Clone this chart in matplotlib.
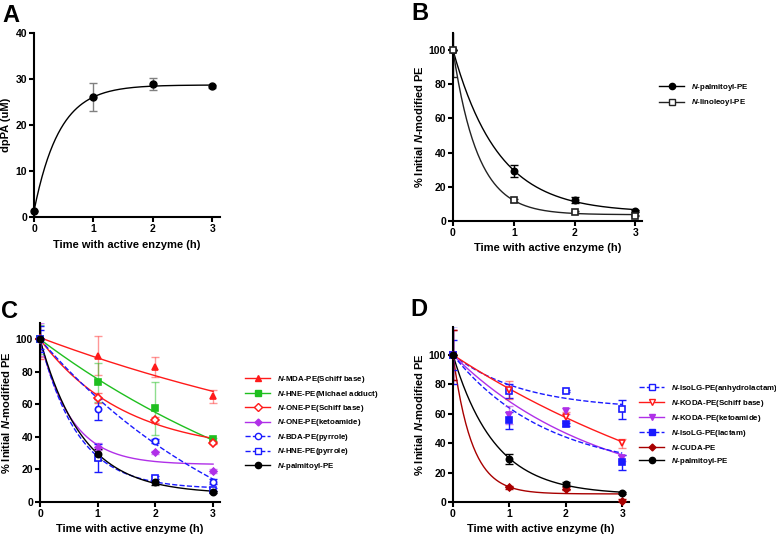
import matplotlib
matplotlib.use("Agg")
import matplotlib.pyplot as plt
from matplotlib.lines import Line2D
import numpy as np

plt.rcParams['font.family'] = ['Liberation Sans', 'DejaVu Sans']
plt.rcParams['font.weight'] = 'bold'
plt.rcParams['axes.labelweight'] = 'bold'
plt.rcParams['mathtext.fontset'] = 'custom'
plt.rcParams['mathtext.it'] = 'Liberation Sans:italic:bold'
plt.rcParams['mathtext.rm'] = 'Liberation Sans:bold'

# ---- data ----
t = [0, 1, 2, 3]

# A: dpPA release
dppa = [1.3, 26.1, 28.9, 28.4]
dppa_err = [0, 3.0, 1.3, 0.3]
dppa_fit = (1.3, 28.7, 2.35)          # (y0, plateau, k)

# B
b_labels = ['$N$-palmitoyl-PE', '$N$-linoleoyl-PE']
b_vals = [[100, 29.3, 12.3, 6.0], [100, 12.0, 5.2, 3.0]]
b_err = [[0, 3.5, 1.8, 0.5], [16, 0.8, 0.5, 0.3]]
b_fit = [(100, 5, 1.35), (100, 3.7, 2.45)]

# C
c_labels = ['$N$-MDA-PE(Schiff base)', '$N$-HNE-PE(Michael adduct)',
            '$N$-ONE-PE(Schiff base)', '$N$-ONE-PE(ketoamide)',
            '$N$-BDA-PE(pyrrole)', '$N$-HNE-PE(pyrrole)', '$N$-palmitoyl-PE']
c_vals = [[100, 90, 83, 65],
          [100, 73.5, 57.5, 38.5],
          [100, 64, 50.5, 36.5],
          [100, 34, 30.5, 19],
          [100, 57, 37.5, 12.5],
          [100, 27, 14.5, 7.5],
          [100, 29.3, 12.3, 6.0]]
c_err = [[11, 12, 6, 4],
         [9, 12, 16.5, 1],
         [12, 3, 2, 1],
         [10, 2, 1, 1],
         [6, 6.5, 1.5, 1.5],
         [8, 8.5, 1.5, 1],
         [0, 3.5, 1.8, 0.5]]
c_fit = [(101, 0, 0.132), (100, -50, 0.178), (100, 30, 0.68), (100, 23, 1.86),
         (100, -60, 0.257), (100, 8, 1.53), (100, 5, 1.35)]

# D
d_labels = ['$N$-IsoLG-PE(anhydrolactam)', '$N$-KODA-PE(Schiff base)',
            '$N$-KODA-PE(ketoamide)', '$N$-IsoLG-PE(lactam)',
            '$N$-CUDA-PE', '$N$-palmitoyl-PE']
d_vals = [[100, 75.5, 75.5, 63],
          [100, 76, 58, 40],
          [100, 59, 62, 30],
          [100, 55.5, 53, 27],
          [100, 10, 9, 1],
          [100, 29.3, 12.3, 6.0]]
d_err = [[10, 5, 1, 6.5],
         [17, 6, 3, 3],
         [17, 6, 2, 2],
         [20, 6, 1, 5],
         [17, 1, 1, 1],
         [0, 3.5, 1.5, 0.5]]
d_fit = [(100, 63, 0.8), (100, -50, 0.167), (100, 0, 0.38), (100, 20, 0.6),
         (100, 5.5, 3.0), (100, 5, 1.35)]

# ---- styles ----
RED, GREEN, PURPLE, BLUE, DRED = '#ff1a1a', '#1fbf1f', '#b030e8', '#1a1aff', '#a80000'
b_style = [dict(c='black', m='o', fill=True, ls='-'),
           dict(c='#222222', m='s', fill=False, ls='-')]
c_style = [dict(c=RED, m='^', fill=True, ls='-', ea=0.45),
           dict(c=GREEN, m='s', fill=True, ls='-', ea=0.5),
           dict(c=RED, m='D', fill=False, ls='-', ea=0.6),
           dict(c=PURPLE, m='D', fill=True, ls='-', ms=3.5, ea=0.6),
           dict(c=BLUE, m='o', fill=False, ls='--'),
           dict(c=BLUE, m='s', fill=False, ls='--'),
           dict(c='black', m='o', fill=True, ls='-')]
d_style = [dict(c=BLUE, m='s', fill=False, ls='--'),
           dict(c=RED, m='v', fill=False, ls='-', ea=0.5),
           dict(c=PURPLE, m='v', fill=True, ls='-', ea=0.6),
           dict(c=BLUE, m='s', fill=True, ls='--'),
           dict(c=DRED, m='D', fill=True, ls='-', ms=3.5),
           dict(c='black', m='o', fill=True, ls='-')]

tt = np.linspace(0, 3, 200)


def decay(p):
    y0, plateau, k = p
    return plateau + (y0 - plateau) * np.exp(-k * tt)


W, H = 776, 539


def make_ax(fig, left, right, top, bottom):
    ax = fig.add_axes([left / W, 1 - bottom / H, (right - left) / W, (bottom - top) / H])
    for s in ('top', 'right'):
        ax.spines[s].set_visible(False)
    for s in ('left', 'bottom'):
        ax.spines[s].set_linewidth(1.5)
    ax.tick_params(width=1.5, length=3.5, labelsize=7.5, pad=1.5)
    ax.set_xticks(t)
    ax.set_xlabel('Time with active enzyme (h)', fontsize=8, labelpad=4)
    return ax


def draw_series(ax, vals, errs, fits, styles):
    handles = []
    for v, e, p, s in zip(vals, errs, fits, styles):
        ms = s.get('ms', 4.5)
        mfc = s['c'] if s['fill'] else 'white'
        ax.plot(tt, decay(p), color=s['c'], ls=s['ls'], lw=1.0, zorder=2)
        ax.errorbar(t, v, yerr=e, fmt='none', ecolor=s['c'], elinewidth=1.0,
                    capsize=3, capthick=1.0, alpha=s.get('ea', 1.0), zorder=2.5)
        ax.plot(t, v, ls='none', marker=s['m'], mfc=mfc, mec=s['c'], mew=1.2, ms=ms,
                clip_on=False, zorder=4)
        handles.append(Line2D([], [], color=s['c'], ls=s['ls'], lw=1.0, marker=s['m'],
                              mfc=mfc, mec=s['c'], mew=1.0, ms=ms))
    return handles


def add_legend(fig, handles, labels, x, y, spacing):
    fig.legend(handles, labels, loc='center left', bbox_to_anchor=(x / W, 1 - y / H),
               frameon=False, borderpad=0, borderaxespad=0, fontsize=5.7,
               handlelength=3.2, handletextpad=0.8, labelspacing=spacing)


fig = plt.figure(figsize=(7.76, 5.39), dpi=100)

# ---- A ----
axA = make_ax(fig, 34, 220, 33, 217)
axA.plot(tt, decay(dppa_fit), color='black', lw=1.0)
axA.errorbar(t, dppa, yerr=dppa_err, fmt='none', ecolor='#808080', elinewidth=1.0,
             capsize=3, capthick=1.0)
axA.plot(t, dppa, 'o', color='black', ms=5, clip_on=False, zorder=4)
axA.set_xlim(0, 3.13)
axA.set_ylim(0, 40)
axA.set_yticks([0, 10, 20, 30, 40])
axA.set_ylabel('dpPA (uM)', fontsize=8, labelpad=3)

# ---- B ----
axB = make_ax(fig, 453, 642, 33, 221)
hB = draw_series(axB, b_vals, b_err, b_fit, b_style)
axB.set_xlim(0, 3.11)
axB.set_ylim(0, 110)
axB.set_yticks([0, 20, 40, 60, 80, 100])
axB.set_ylabel('% Initial $N$-modified PE', fontsize=8, labelpad=3)
add_legend(fig, hB, b_labels, 659, 95, 0.63)

# ---- C ----
axC = make_ax(fig, 40, 220, 323, 502)
hC = draw_series(axC, c_vals, c_err, c_fit, c_style)
axC.set_xlim(0, 3.12)
axC.set_ylim(0, 110)
axC.set_yticks([0, 20, 40, 60, 80, 100])
axC.set_ylabel('% Initial $N$-modified PE', fontsize=8, labelpad=3)
add_legend(fig, hC, c_labels, 245, 423, 0.44)

# ---- D ----
axD = make_ax(fig, 453, 629, 327, 502)
hD = draw_series(axD, d_vals, d_err, d_fit, d_style)
axD.set_xlim(0, 3.12)
axD.set_ylim(0, 119)
axD.set_yticks([0, 20, 40, 60, 80, 100])
axD.set_ylabel('% Initial $N$-modified PE', fontsize=8, labelpad=3)
add_legend(fig, hD, d_labels, 639, 425, 0.5)

# panel letters
for txt, x, y in [('A', 2, 15), ('B', 411, 14), ('C', 1, 311), ('D', 410, 309)]:
    fig.text(x / W, 1 - y / H, txt, fontsize=17, fontweight='bold', va='center', ha='left')

fig.savefig('out.png', dpi=100)
